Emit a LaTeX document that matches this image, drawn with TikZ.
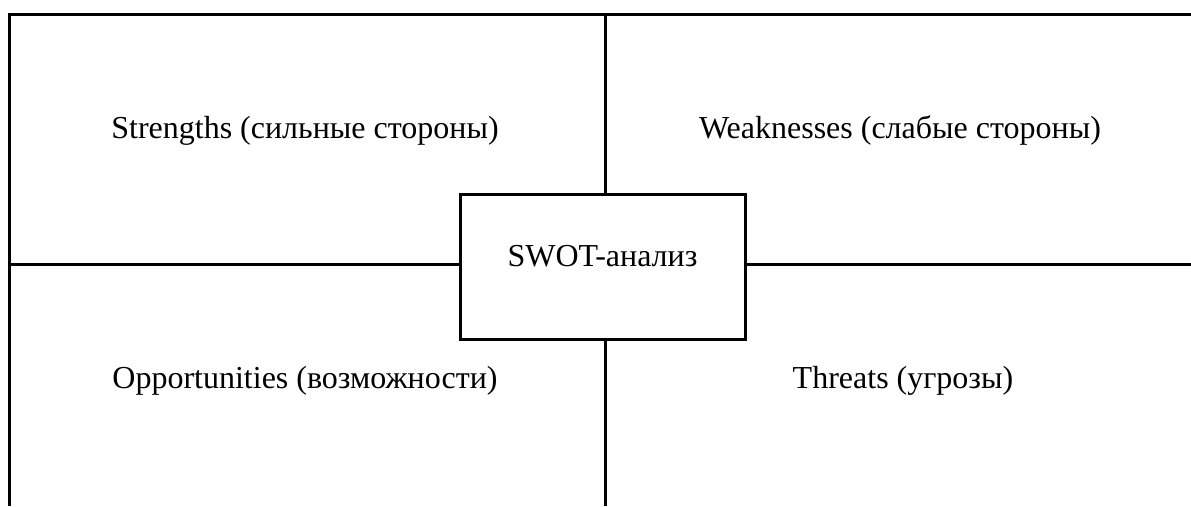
\documentclass[tikz,border=0pt]{standalone}
\usepackage{fontspec}
\setmainfont{Liberation Serif}
\begin{document}
\begin{tikzpicture}[x=1pt,y=-1pt,line width=3pt,
  lbl/.style={anchor=base,font=\fontsize{32}{38}\selectfont},
  centerbox/.style={draw,minimum width=285pt,minimum height=145pt,inner sep=0pt}]
\useasboundingbox (0,0) rectangle (1191,506);

\node [centerbox] (swot) at (602.5,266.5) {};
\node [lbl] (swottext) at (602.5,266) {SWOT-анализ};

\coordinate (tl) at (9,14);
\coordinate (tr) at (1191,14);
\coordinate (bl) at (9,506);
\coordinate (mtop) at (605,14);
\coordinate (mbot) at (605,506);
\coordinate (hl) at (9,264);
\coordinate (hr) at (1191,264);

\draw (bl) -- (tl) -- (tr);
\draw (mtop) -- (mtop |- swot.north);
\draw (mbot) -- (mbot |- swot.south);
\draw (hl) -- (hl -| swot.west);
\draw (hr) -- (hr -| swot.east);

\node [lbl] (str) at (305,138) {Strengths (сильные стороны)};
\node [lbl] (weak) at (900,138) {Weaknesses (слабые стороны)};
\node [lbl] (opp) at (305,388) {Opportunities (возможности)};
\node [lbl] (thr) at (903,388) {Threats (угрозы)};
\end{tikzpicture}
\end{document}
